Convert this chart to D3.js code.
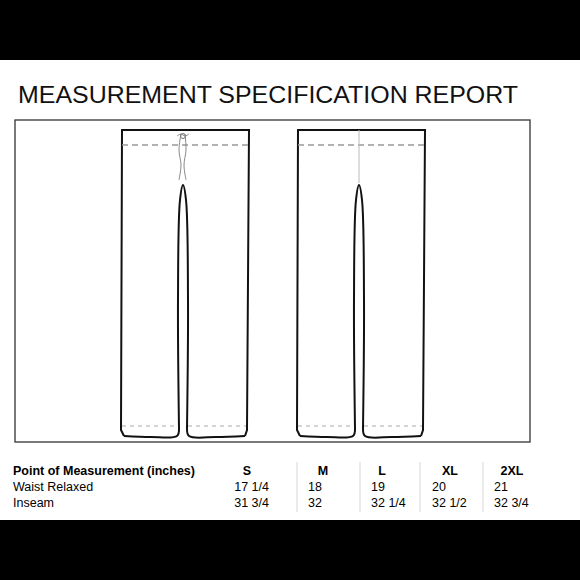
<!DOCTYPE html>
<html><head><meta charset="utf-8">
<script src="https://cdn.jsdelivr.net/npm/d3@7"></script>
<style>body{margin:0;background:#000}</style>
</head><body>
<script>
const sizes = ["S", "M", "L", "XL", "2XL"];
const measures = ["Waist Relaxed", "Inseam"];
const waist = ["17 1/4", "18", "19", "20", "21"];
const inseam = ["31 3/4", "32", "32 1/4", "32 1/2", "32 3/4"];
const rows = [waist, inseam];

const svg = d3.select("body").append("svg").attr("width", 580).attr("height", 580)
  .style("font-family", "Liberation Sans, Arial, sans-serif");
svg.append("rect").attr("width", 580).attr("height", 580).attr("fill", "#000");
svg.append("rect").attr("y", 60).attr("width", 580).attr("height", 460).attr("fill", "#fff");

svg.append("text").attr("x", 18).attr("y", 103).attr("font-size", 23.5)
  .attr("textLength", 500).attr("lengthAdjust", "spacingAndGlyphs")
  .attr("fill", "#111").text("MEASUREMENT SPECIFICATION REPORT");

svg.append("rect").attr("x", 15).attr("y", 120).attr("width", 515).attr("height", 322)
  .attr("fill", "none").attr("stroke", "#333").attr("stroke-width", 1.3);

// pants drawing
const line = d3.line().curve(d3.curveLinear);
const curve = d3.line().curve(d3.curveCatmullRom);
function pants(x0, front) {
  const g = svg.append("g").attr("transform", `translate(${x0},0)`);
  const st = {fill: "none", stroke: "#111", "stroke-width": 2};
  const draw = (d, f, s) => { const p = g.append("path").attr("d", f(d)); Object.entries(s || st).forEach(([k, v]) => p.attr(k, v)); return p; };
  // outer outline
  draw([[3, 436], [0, 430], [1, 130], [128, 130], [126, 430], [124, 436]], line);
  // legs: bottoms and inner seams
  draw([[3, 436], [30, 437], [56, 436], [58, 428]], curve);
  draw([[58, 428], [57, 300], [59, 200], [62, 185], [65, 200], [67, 300], [66, 428]], curve);
  draw([[66, 428], [68, 436], [95, 437], [124, 436]], curve);
  const dash = {fill: "none", stroke: "#999", "stroke-width": 1.6, "stroke-dasharray": "6,4"};
  draw([[1, 145], [128, 145]], line, dash);
  const dashS = {fill: "none", stroke: "#aaa", "stroke-width": 1, "stroke-dasharray": "4,4"};
  draw([[1, 426], [57, 426]], line, dashS);
  draw([[67, 426], [125, 426]], line, dashS);
  if (front) {
    const thin = {fill: "none", stroke: "#888", "stroke-width": 1};
    draw([[56, 136], [60, 134], [64, 136], [68, 134]], curve, thin);
    draw([[60, 134], [58, 150], [60, 165], [58, 180]], curve, thin);
    draw([[64, 134], [65, 150], [63, 165], [65, 180]], curve, thin);
    g.append("circle").attr("cx", 62).attr("cy", 136).attr("r", 2.5).attr("fill", "none").attr("stroke", "#777");
  } else {
    draw([[62, 130], [62, 183]], line, {fill: "none", stroke: "#bbb", "stroke-width": 1});
  }
}
pants(121, true);
pants(297, false);

// table
const cols = [
  {h: 247, v: 269, a: "end"},
  {h: 323, v: 308, a: "start"},
  {h: 382, v: 371, a: "start"},
  {h: 450, v: 432, a: "start"},
  {h: 512, v: 494, a: "start"}
];
const seps = [297, 360, 420, 483];
svg.selectAll(".sep").data(seps).enter().append("line")
  .attr("x1", d => d).attr("x2", d => d).attr("y1", 462).attr("y2", 512)
  .attr("stroke", "#ddd").attr("stroke-width", 1.2);

svg.append("text").attr("x", 13).attr("y", 475).attr("font-size", 12.5).attr("font-weight", "bold")
  .text("Point of Measurement (inches)");
svg.selectAll(".sz").data(sizes).enter().append("text")
  .attr("x", (d, i) => cols[i].h).attr("y", 475).attr("text-anchor", "middle")
  .attr("font-size", 12.5).attr("font-weight", "bold").text(d => d);
measures.forEach((m, r) => {
  const y = 491 + r * 16;
  svg.append("text").attr("x", 13).attr("y", y).attr("font-size", 12.5).text(m);
  svg.selectAll(".v" + r).data(rows[r]).enter().append("text")
    .attr("x", (d, i) => cols[i].v).attr("y", y).attr("text-anchor", (d, i) => cols[i].a)
    .attr("font-size", 12.5).text(d => d);
});
</script>
</body></html>
